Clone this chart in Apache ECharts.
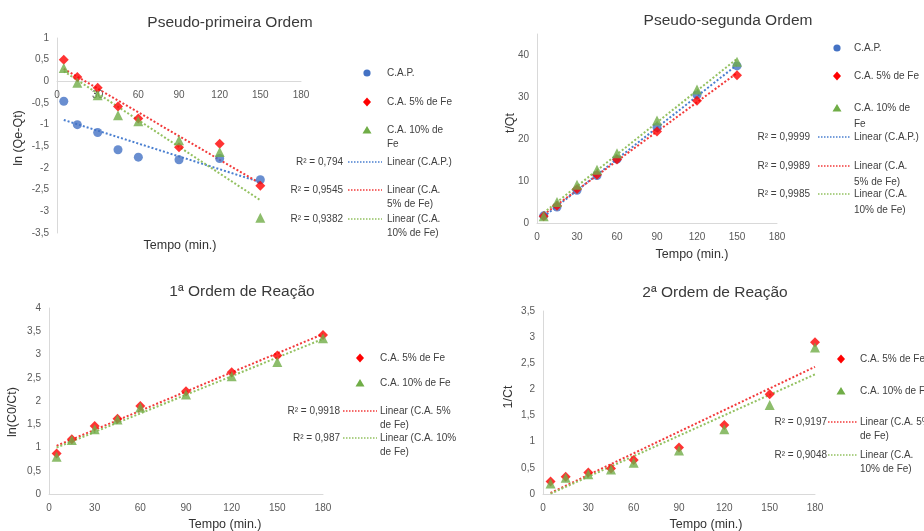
<!DOCTYPE html>
<html>
<head>
<meta charset="utf-8">
<script src="https://cdn.jsdelivr.net/npm/echarts@6/dist/echarts.min.js"></script>
<style>
  html, body { margin: 0; padding: 0; background: #fff; }
  #main { width: 924px; height: 531px; }
</style>
</head>
<body>
<div id="main"></div>
<script>
// tempos (min.)
var tempo = [5, 15, 30, 45, 60, 90, 120, 150];
var tempoReacao = [5, 15, 30, 45, 60, 90, 120, 150, 180];

// Pseudo-primeira ordem: ln (Qe-Qt)
var ppCap = [-0.46, -1.0, -1.18, -1.58, -1.75, -1.81, -1.78, -2.27];
var ppFe5 = [0.5, 0.1, -0.15, -0.58, -0.86, -1.52, -1.44, -2.41];
var ppFe10 = [0.31, -0.03, -0.32, -0.78, -0.92, -1.36, -1.63, -3.15];

// Pseudo-segunda ordem: t/Qt
var psCap = [1.7, 3.8, 7.8, 11.3, 15.2, 22.8, 30.5, 37.4];
var psFe5 = [1.6, 4.1, 8.1, 11.5, 15.1, 21.8, 29.1, 35.2];
var psFe10 = [1.6, 5.0, 9.1, 12.7, 16.6, 24.4, 31.8, 38.4];

// 1ª ordem de reação: ln(C0/Ct)
var r1Fe5 = [0.87, 1.18, 1.46, 1.62, 1.89, 2.21, 2.62, 2.98, 3.42];
var r1Fe10 = [0.8, 1.16, 1.39, 1.6, 1.86, 2.14, 2.53, 2.84, 3.35];

// 2ª ordem de reação: 1/Ct
var r2Fe5 = [0.24, 0.33, 0.41, 0.49, 0.65, 0.89, 1.32, 1.91, 2.9];
var r2Fe10 = [0.2, 0.31, 0.38, 0.47, 0.6, 0.83, 1.24, 1.7, 2.8];

// R² das linhas de tendência
var r2Primeira = ['R² = 0,794', 'R² = 0,9545', 'R² = 0,9382'];
var r2Segunda = ['R² = 0,9999', 'R² = 0,9989', 'R² = 0,9985'];
var r2Reacao1 = ['R² = 0,9918', 'R² = 0,987'];
var r2Reacao2 = ['R² = 0,9197', 'R² = 0,9048'];

var FONT = 'Liberation Sans';
var AZUL = '#4472c4', VERMELHO = '#ff0000', VERDE = '#70ad47';
var TREND = { cap: '#4a7fd0', fe5: '#f23a3a', fe10: '#93c160' };

var chart = echarts.init(document.getElementById('main'));

// regressão linear simples (mínimos quadrados), pontos extremos da reta
function tendencia(xs, ys) {
  var n = xs.length, sx = 0, sy = 0, sxx = 0, sxy = 0;
  for (var i = 0; i < n; i++) {
    sx += xs[i]; sy += ys[i]; sxx += xs[i] * xs[i]; sxy += xs[i] * ys[i];
  }
  var b = (n * sxy - sx * sy) / (n * sxx - sx * sx);
  var a = (sy - b * sx) / n;
  return [[xs[0], a + b * xs[0]], [xs[n - 1], a + b * xs[n - 1]]];
}
function pares(xs, ys) {
  return xs.map(function (x, i) { return [x, ys[i]]; });
}
function virgula(v) { return String(v).replace('.', ','); }

function pontos(name, xs, ys, symbol, color, size, idx) {
  return {
    name: name, type: 'scatter', xAxisIndex: idx, yAxisIndex: idx,
    data: pares(xs, ys), symbol: symbol, symbolSize: size,
    itemStyle: { color: color }, z: 3
  };
}
function linha(name, xs, ys, color, idx) {
  return {
    name: name, type: 'line', xAxisIndex: idx, yAxisIndex: idx,
    data: tendencia(xs, ys), symbol: 'none', silent: true,
    lineStyle: { color: color, width: 2, type: 'dotted' }, z: 2
  };
}

var grids = [
  { left: 57, top: 38, width: 244, height: 195 },
  { left: 537, top: 34, width: 240, height: 189 },
  { left: 49, top: 308, width: 274, height: 186 },
  { left: 543, top: 311, width: 272, height: 183 }
];
var yRange = [[-3.5, 1, 0.5], [0, 45, 10], [0, 4, 0.5], [0, 3.5, 0.5]];

var axisLabel = { color: '#595959', fontSize: 10, fontFamily: FONT, formatter: virgula };

function eixoX(idx) {
  // eixo X cruza o Y em zero (rótulos junto à linha, como no Excel)
  var r = yRange[idx];
  var desloc = -grids[idx].height * (0 - r[0]) / (r[1] - r[0]);
  return {
    type: 'value', gridIndex: idx, min: 0, max: 180, interval: 30,
    offset: desloc,
    axisLine: { onZero: false, lineStyle: { color: '#d9d9d9', width: 1 } },
    axisTick: { show: false }, splitLine: { show: false },
    axisLabel: Object.assign({ margin: 9 }, axisLabel)
  };
}
function eixoY(idx) {
  var r = yRange[idx];
  return {
    type: 'value', gridIndex: idx, min: r[0], max: r[1], interval: r[2],
    axisLine: { show: true, lineStyle: { color: '#d9d9d9', width: 1 } },
    axisTick: { show: false }, splitLine: { show: false },
    axisLabel: Object.assign({ margin: 8, showMaxLabel: idx !== 1 }, axisLabel)
  };
}

// textos: títulos, nomes dos eixos, legendas
var graficos = [];
function texto(str, x, y, size, color, opts) {
  graficos.push(Object.assign({
    type: 'text', x: x, y: y, silent: true,
    style: Object.assign({
      text: str, fontSize: size, fontFamily: FONT, fill: color,
      align: 'center', verticalAlign: 'middle'
    }, (opts && opts.style) || {})
  }, (opts && opts.el) || {}));
}
function titulo(str, x, y) { texto(str, x, y, 15.5, '#3a3a3a'); }
function nomeX(str, x, y) { texto(str, x, y, 12.5, '#333'); }
function nomeY(str, x, y) { texto(str, x, y, 12.5, '#333', { el: { rotation: Math.PI / 2 } }); }

function marcador(kind, x, y, color) {
  var el;
  if (kind === 'circle') {
    el = { type: 'circle', shape: { cx: x, cy: y, r: 3.6 } };
  } else if (kind === 'diamond') {
    el = { type: 'polygon', shape: { points: [[x, y - 4.5], [x + 4, y], [x, y + 4.5], [x - 4, y]] } };
  } else {
    el = { type: 'polygon', shape: { points: [[x, y - 4], [x + 4.5, y + 3.5], [x - 4.5, y + 3.5]] } };
  }
  el.style = { fill: color };
  el.silent = true;
  graficos.push(el);
}
function legenda(cfg) {
  cfg.itens.forEach(function (it, i) {
    var y = cfg.ys[i];
    marcador(it.kind, cfg.mx, y, it.color);
    texto(it.label, cfg.tx, y - cfg.lh / 2, 10, '#404040',
      { style: { align: 'left', verticalAlign: 'top', lineHeight: cfg.lh } });
  });
  cfg.linhas.forEach(function (ln, i) {
    var y = cfg.ry[i];
    texto(cfg.r2[i], cfg.rx, y, 10, '#404040', { style: { align: 'right' } });
    graficos.push({
      type: 'line', silent: true,
      shape: { x1: cfg.l1, y1: y, x2: cfg.l2, y2: y },
      style: { stroke: ln.color, lineWidth: 1.5, lineDash: [1.5, 1.5] }
    });
    texto(ln.label, cfg.tx, y - cfg.lh / 2, 10, '#404040',
      { style: { align: 'left', verticalAlign: 'top', lineHeight: cfg.lh } });
  });
}

titulo('Pseudo-primeira Ordem', 230, 23);
titulo('Pseudo-segunda Ordem', 728, 21);
titulo('1ª Ordem de Reação', 242, 292);
titulo('2ª Ordem de Reação', 715, 293);

nomeY('ln (Qe-Qt)', 19, 138);
nomeX('Tempo (min.)', 180, 246);
nomeY('t/Qt', 511, 123);
nomeX('Tempo (min.)', 692, 255);
nomeY('ln(C0/Ct)', 13, 412);
nomeX('Tempo (min.)', 225, 525);
nomeY('1/Ct', 509, 397);
nomeX('Tempo (min.)', 706, 525);

legenda({
  mx: 367, tx: 387, lh: 14, ys: [73, 102, 130], rx: 343, l1: 348, l2: 382, ry: [162, 190, 219],
  itens: [
    { kind: 'circle', color: AZUL, label: 'C.A.P.' },
    { kind: 'diamond', color: VERMELHO, label: 'C.A. 5% de Fe' },
    { kind: 'triangle', color: VERDE, label: 'C.A. 10% de\nFe' }
  ],
  r2: r2Primeira,
  linhas: [
    { color: TREND.cap, label: 'Linear (C.A.P.)' },
    { color: TREND.fe5, label: 'Linear (C.A.\n5% de Fe)' },
    { color: TREND.fe10, label: 'Linear (C.A.\n10% de Fe)' }
  ]
});
legenda({
  mx: 837, tx: 854, lh: 16, ys: [48, 76, 108], rx: 810, l1: 818, l2: 851, ry: [137, 166, 194],
  itens: [
    { kind: 'circle', color: AZUL, label: 'C.A.P.' },
    { kind: 'diamond', color: VERMELHO, label: 'C.A. 5% de Fe' },
    { kind: 'triangle', color: VERDE, label: 'C.A. 10% de\nFe' }
  ],
  r2: r2Segunda,
  linhas: [
    { color: TREND.cap, label: 'Linear (C.A.P.)' },
    { color: TREND.fe5, label: 'Linear (C.A.\n5% de Fe)' },
    { color: TREND.fe10, label: 'Linear (C.A.\n10% de Fe)' }
  ]
});
legenda({
  mx: 360, tx: 380, lh: 14, ys: [358, 383], rx: 340, l1: 343, l2: 377, ry: [411, 438],
  itens: [
    { kind: 'diamond', color: VERMELHO, label: 'C.A. 5% de Fe' },
    { kind: 'triangle', color: VERDE, label: 'C.A. 10% de Fe' }
  ],
  r2: r2Reacao1,
  linhas: [
    { color: TREND.fe5, label: 'Linear (C.A. 5%\nde Fe)' },
    { color: TREND.fe10, label: 'Linear (C.A. 10%\nde Fe)' }
  ]
});
legenda({
  mx: 841, tx: 860, lh: 14, ys: [359, 391], rx: 827, l1: 828, l2: 857, ry: [422, 455],
  itens: [
    { kind: 'diamond', color: VERMELHO, label: 'C.A. 5% de Fe' },
    { kind: 'triangle', color: VERDE, label: 'C.A. 10% de Fe' }
  ],
  r2: r2Reacao2,
  linhas: [
    { color: TREND.fe5, label: 'Linear (C.A. 5%\nde Fe)' },
    { color: TREND.fe10, label: 'Linear (C.A.\n10% de Fe)' }
  ]
});

var option = {
  animation: false,
  backgroundColor: '#fff',
  grid: grids,
  xAxis: [eixoX(0), eixoX(1), eixoX(2), eixoX(3)],
  yAxis: [eixoY(0), eixoY(1), eixoY(2), eixoY(3)],
  series: [
    linha('Linear (C.A.P.)', tempo, ppCap, TREND.cap, 0),
    linha('Linear (C.A. 5% de Fe)', tempo, ppFe5, TREND.fe5, 0),
    linha('Linear (C.A. 10% de Fe)', tempo, ppFe10, TREND.fe10, 0),
    pontos('C.A.P.', tempo, ppCap, 'circle', AZUL, 9, 0),
    pontos('C.A. 5% de Fe', tempo, ppFe5, 'diamond', VERMELHO, 10, 0),
    pontos('C.A. 10% de Fe', tempo, ppFe10, 'triangle', VERDE, 10, 0),

    linha('Linear (C.A.P.)', tempo, psCap, TREND.cap, 1),
    linha('Linear (C.A. 5% de Fe)', tempo, psFe5, TREND.fe5, 1),
    linha('Linear (C.A. 10% de Fe)', tempo, psFe10, TREND.fe10, 1),
    pontos('C.A.P.', tempo, psCap, 'circle', AZUL, 9, 1),
    pontos('C.A. 5% de Fe', tempo, psFe5, 'diamond', VERMELHO, 10, 1),
    pontos('C.A. 10% de Fe', tempo, psFe10, 'triangle', VERDE, 10, 1),

    linha('Linear (C.A. 5% de Fe)', tempoReacao, r1Fe5, TREND.fe5, 2),
    linha('Linear (C.A. 10% de Fe)', tempoReacao, r1Fe10, TREND.fe10, 2),
    pontos('C.A. 5% de Fe', tempoReacao, r1Fe5, 'diamond', VERMELHO, 10, 2),
    pontos('C.A. 10% de Fe', tempoReacao, r1Fe10, 'triangle', VERDE, 10, 2),

    linha('Linear (C.A. 5% de Fe)', tempoReacao, r2Fe5, TREND.fe5, 3),
    linha('Linear (C.A. 10% de Fe)', tempoReacao, r2Fe10, TREND.fe10, 3),
    pontos('C.A. 5% de Fe', tempoReacao, r2Fe5, 'diamond', VERMELHO, 10, 3),
    pontos('C.A. 10% de Fe', tempoReacao, r2Fe10, 'triangle', VERDE, 10, 3)
  ],
  graphic: graficos
};

chart.setOption(option);
</script>
</body>
</html>
